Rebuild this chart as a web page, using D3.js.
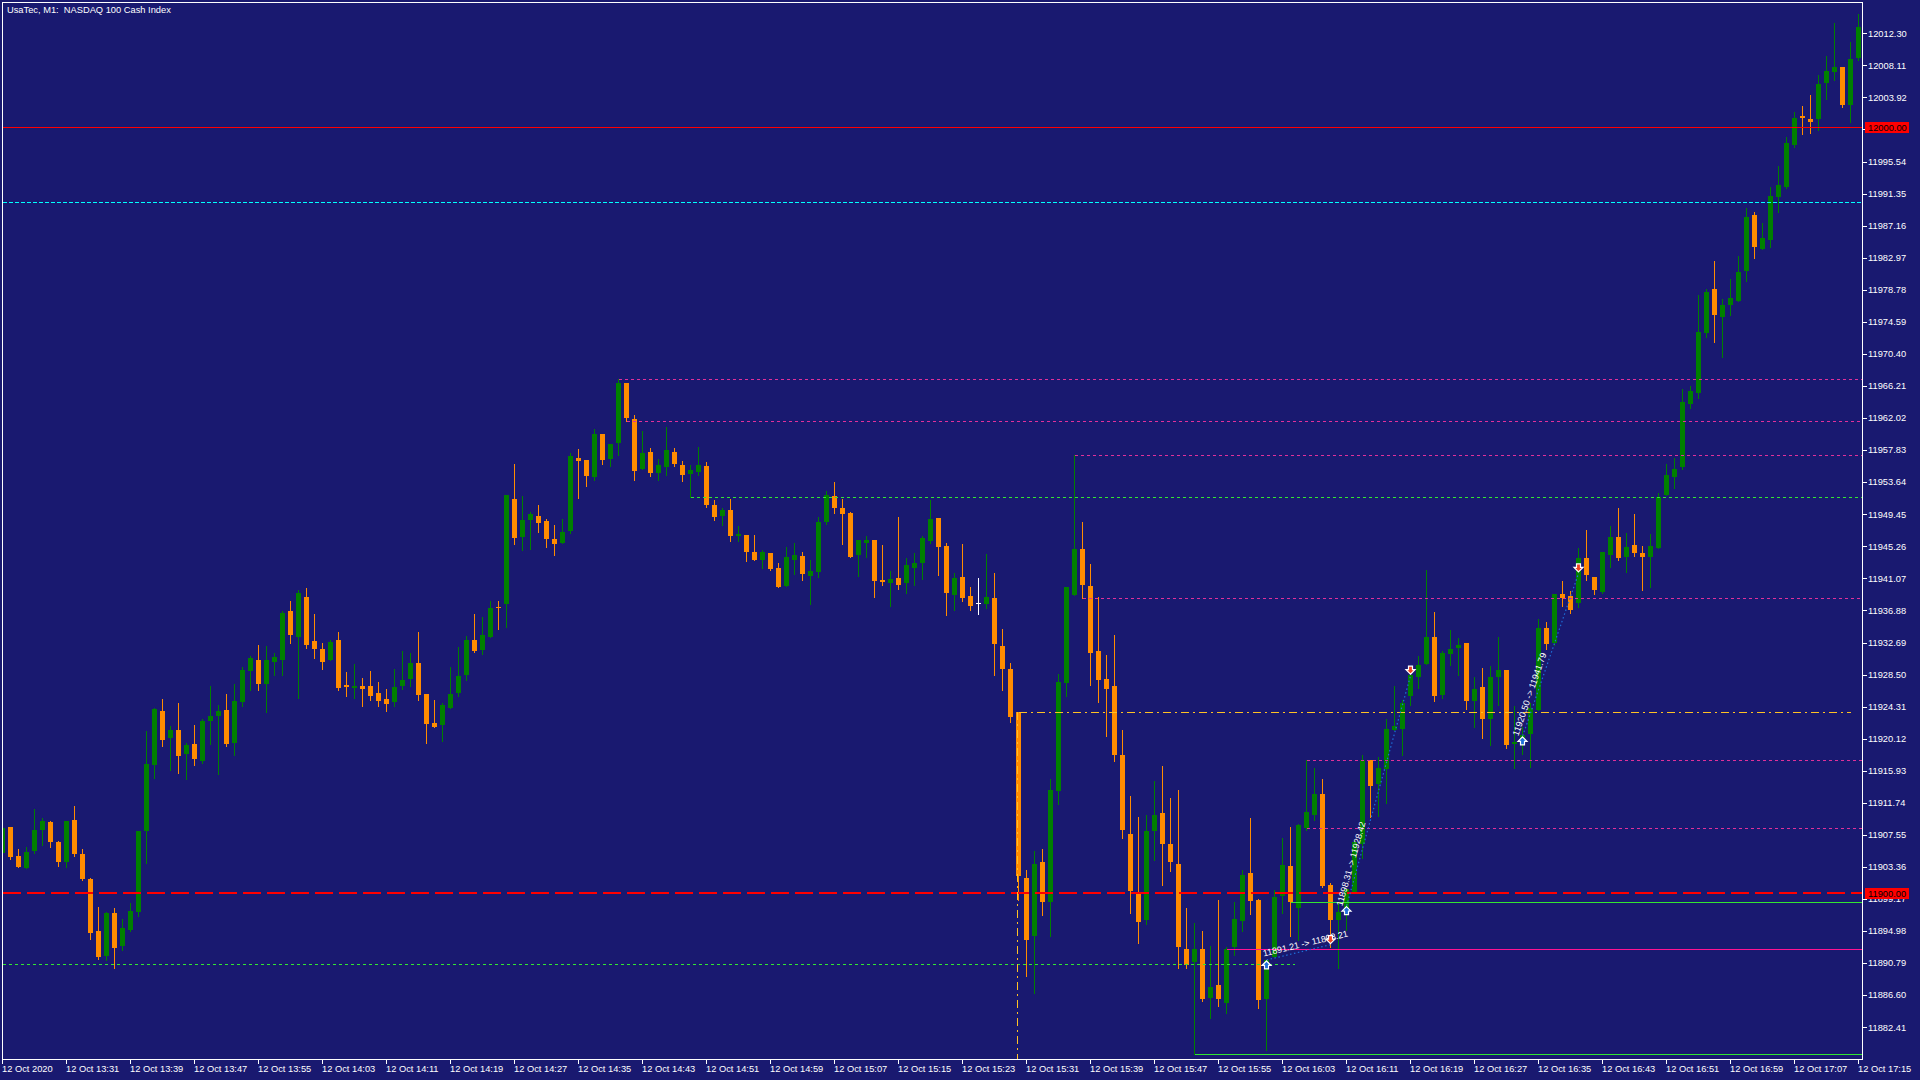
<!DOCTYPE html>
<html>
<head>
<meta charset="utf-8">
<title>UsaTec, M1: NASDAQ 100 Cash Index</title>
<script src="https://d3js.org/d3.v7.min.js"></script>
<style>
  html, body { margin: 0; padding: 0; background: #191970; }
  svg { display: block; }
  text { font-family: "Liberation Sans", Arial, sans-serif; fill: #fff; }
</style>
</head>
<body>
<svg id="chart" width="1920" height="1080"></svg>
<script>
// one bar per minute, 12 Oct 2020 13:23 .. 17:15
const opens = [
  11905.18,11908.53,11904.75,11903.22,11905.44,11908.19,11909.19,11906.57,11904.00,11909.45,
  11905.01,11901.74,11894.94,11891.72,11897.29,11893.02,11895.12,11897.47,11908.06,11916.68,
  11923.70,11920.21,11921.21,11918.12,11919.38,11917.21,11922.43,11923.09,11923.83,11919.56,
  11924.92,11928.97,11930.36,11927.27,11930.15,11930.41,11936.77,11933.41,11938.60,11932.85,
  11931.81,11930.37,11932.98,11927.15,11926.75,11926.97,11926.97,11926.06,11925.27,11924.92,
  11927.01,11927.93,11929.98,11925.92,11922.13,11921.91,11924.14,11926.10,11928.45,11932.98,
  11931.72,11933.42,11937.30,11937.73,11951.41,11946.49,11948.71,11949.19,11948.54,11946.19,
  11945.71,11947.27,11956.77,11956.51,11954.33,11959.91,11956.69,11958.78,11966.58,11961.87,
  11955.38,11957.56,11954.86,11955.64,11957.56,11955.86,11954.72,11954.99,11955.73,11950.63,
  11949.24,11949.98,11946.62,11946.75,11944.53,11943.48,11944.40,11942.44,11940.08,11943.48,
  11944.01,11941.39,11941.91,11948.45,11951.81,11950.24,11949.58,11944.14,11945.71,11946.05,
  11940.87,11940.48,11941.13,11940.48,11942.44,11943.09,11945.97,11948.93,11945.33,11938.96,
  11941.29,11938.75,11937.87,11937.77,11938.49,11932.23,11929.27,11923.57,11901.97,11894.35,
  11904.04,11898.81,11913.26,11927.41,11938.96,11944.92,11940.10,11931.55,11927.93,11926.99,
  11917.93,11907.72,11899.90,11896.37,11908.03,11910.36,11906.37,11903.78,11892.64,11890.88,
  11892.64,11886.27,11887.88,11885.65,11892.95,11896.27,11902.53,11898.99,11886.06,11891.59,
  11899.56,11903.44,11898.00,11908.50,11910.11,11912.85,11900.96,11896.43,11897.04,11900.13,
  11906.40,11917.30,11914.20,11916.16,11921.30,11921.34,11925.75,11928.19,11929.89,11933.37,
  11925.84,11931.19,11931.98,11932.59,11925.05,11926.84,11922.70,11928.15,11929.06,11919.43,
  11919.91,11920.74,11923.87,11934.64,11932.63,11939.03,11938.83,11937.90,11943.72,11941.25,
  11939.32,11944.16,11946.49,11943.92,11945.42,11944.45,11943.92,11944.98,11951.91,11954.28,
  11955.59,11963.82,11965.28,11973.12,11978.84,11975.20,11976.80,11977.38,11981.21,11988.52,
  11984.12,11985.28,11990.85,11992.25,11997.68,12001.45,12001.07,12001.07,12005.86,12007.26,
  12007.89,12002.95,12009.06
];
const highs = [
  11908.80,11908.53,11905.66,11905.92,11910.89,11909.71,11909.32,11906.70,11909.32,11911.28,
  11905.66,11901.87,11898.08,11897.42,11897.95,11896.51,11898.60,11908.01,11921.08,11924.09,
  11925.27,11921.74,11924.74,11919.51,11921.87,11922.65,11926.96,11924.48,11925.92,11927.23,
  11929.45,11930.89,11932.32,11932.19,11931.28,11936.77,11938.07,11939.51,11939.77,11936.38,
  11932.59,11932.98,11934.03,11928.80,11929.85,11928.02,11928.93,11927.49,11926.58,11929.19,
  11931.54,11931.28,11934.03,11925.92,11925.14,11924.75,11929.45,11932.07,11933.51,11936.38,
  11935.99,11938.08,11938.08,11951.94,11955.99,11951.80,11949.71,11950.63,11948.80,11948.02,
  11948.80,11957.43,11957.95,11956.51,11960.56,11959.91,11958.60,11967.10,11966.58,11962.39,
  11960.30,11958.08,11956.64,11960.82,11958.08,11956.38,11955.86,11958.21,11956.25,11951.28,
  11950.24,11951.41,11947.88,11946.75,11946.75,11944.79,11944.40,11943.09,11945.18,11945.71,
  11944.53,11943.48,11949.06,11952.46,11953.64,11951.41,11949.71,11946.05,11946.58,11946.05,
  11945.44,11942.05,11949.11,11943.74,11944.40,11946.62,11951.33,11948.93,11945.75,11941.81,
  11945.59,11939.95,11941.14,11944.30,11941.81,11934.45,11929.99,11923.57,11902.90,11905.49,
  11905.65,11914.92,11928.55,11939.95,11957.15,11948.49,11942.95,11938.65,11931.03,11933.68,
  11921.29,11912.69,11909.84,11910.15,11914.66,11916.53,11912.33,11913.37,11898.03,11896.06,
  11894.97,11893.06,11899.07,11892.95,11898.81,11903.00,11909.71,11899.21,11891.24,11900.30,
  11907.10,11908.58,11908.93,11917.30,11916.25,11914.81,11901.22,11898.78,11900.52,11906.85,
  11917.95,11917.30,11917.69,11922.65,11927.01,11925.14,11928.71,11930.89,11942.13,11936.64,
  11931.54,11934.29,11933.24,11932.59,11928.15,11929.32,11929.58,11933.37,11929.06,11924.35,
  11921.65,11924.79,11935.77,11935.38,11939.08,11940.72,11939.41,11945.03,11947.41,11941.25,
  11944.50,11947.94,11950.26,11947.02,11949.49,11945.32,11946.87,11952.25,11956.03,11956.85,
  11965.86,11966.24,11978.16,11978.84,11982.61,11977.63,11980.14,11983.15,11989.44,11988.91,
  11987.46,11992.20,11994.91,11998.69,12002.08,12002.81,12004.21,12006.83,12009.35,12013.66,
  12007.89,12011.19,12014.81
];
const lows = [
  11904.88,11904.40,11903.35,11903.22,11905.18,11906.18,11905.97,11903.48,11903.35,11904.79,
  11901.65,11893.94,11891.32,11891.19,11890.15,11892.50,11894.98,11896.95,11903.87,11914.98,
  11919.17,11916.03,11915.64,11914.85,11916.68,11916.95,11919.43,11915.51,11919.17,11917.99,
  11924.39,11926.49,11926.49,11923.61,11928.45,11928.45,11932.63,11925.44,11931.98,11930.67,
  11929.19,11930.37,11926.49,11925.71,11925.45,11924.40,11925.18,11924.40,11923.75,11924.40,
  11926.62,11927.01,11925.18,11919.52,11921.61,11919.78,11924.14,11925.71,11927.80,11931.46,
  11931.20,11933.42,11934.46,11934.72,11945.58,11944.79,11944.92,11947.14,11945.18,11944.14,
  11945.71,11947.01,11951.59,11953.16,11953.94,11956.03,11955.77,11957.21,11961.65,11953.94,
  11955.38,11954.46,11953.94,11954.59,11955.77,11953.81,11951.68,11954.59,11950.41,11948.71,
  11948.06,11945.97,11945.97,11943.35,11943.48,11942.44,11942.18,11939.95,11940.08,11941.65,
  11940.87,11937.73,11941.26,11948.19,11949.63,11945.58,11943.88,11941.39,11943.88,11938.65,
  11940.22,11937.47,11939.69,11939.17,11940.22,11941.00,11945.71,11941.52,11936.32,11936.94,
  11938.13,11936.94,11936.42,11937.25,11928.50,11926.47,11922.33,11899.02,11889.12,11886.94,
  11897.05,11894.30,11911.55,11925.75,11938.96,11938.49,11927.10,11924.92,11920.46,11917.20,
  11907.10,11897.41,11893.37,11895.91,11904.30,11900.98,11902.80,11890.10,11890.21,11878.86,
  11885.91,11883.58,11885.13,11884.30,11891.81,11894.99,11897.25,11884.97,11879.48,11891.59,
  11897.34,11894.29,11893.77,11908.23,11909.45,11900.74,11892.85,11890.15,11895.08,11900.13,
  11904.53,11909.89,11910.02,11911.72,11921.30,11917.99,11924.53,11926.75,11929.89,11925.05,
  11925.44,11929.76,11928.45,11924.01,11921.65,11920.22,11919.30,11924.53,11918.91,11916.29,
  11918.12,11916.43,11923.87,11931.89,11932.33,11937.50,11936.50,11937.30,11940.92,11939.00,
  11939.17,11942.61,11943.53,11941.93,11943.97,11939.61,11939.99,11944.98,11951.91,11952.93,
  11955.30,11963.29,11964.60,11972.59,11971.91,11969.97,11975.45,11977.38,11979.90,11982.95,
  11984.12,11984.36,11988.96,11992.11,11997.48,11999.18,11999.27,11999.61,12003.73,12006.25,
  12002.71,12000.73,12008.80
];
const closes = [
  11908.40,11904.66,11903.35,11905.27,11908.14,11909.32,11906.62,11904.00,11909.32,11905.05,
  11901.78,11894.72,11891.59,11897.29,11892.76,11895.33,11897.56,11908.01,11916.77,11923.96,
  11919.95,11921.21,11917.86,11919.25,11917.47,11922.39,11923.04,11923.70,11919.43,11925.00,
  11929.06,11930.62,11927.27,11930.36,11930.76,11936.51,11933.67,11939.12,11932.37,11931.85,
  11930.11,11932.72,11926.75,11926.88,11927.01,11926.58,11925.71,11925.05,11924.66,11926.84,
  11927.75,11929.98,11925.84,11922.04,11921.61,11924.48,11925.92,11928.28,11932.98,11931.59,
  11933.64,11937.17,11937.17,11951.94,11946.36,11948.67,11949.45,11948.32,11946.23,11945.58,
  11947.10,11957.03,11956.42,11954.46,11959.91,11956.55,11958.60,11966.58,11962.04,11955.12,
  11957.43,11954.86,11955.86,11957.82,11956.03,11954.59,11955.20,11955.86,11950.67,11949.11,
  11949.98,11946.62,11946.88,11944.53,11943.48,11944.53,11942.31,11939.95,11943.88,11944.14,
  11941.65,11942.05,11948.41,11951.94,11950.28,11949.50,11943.88,11946.05,11946.05,11940.74,
  11940.61,11941.00,11940.22,11942.83,11943.09,11946.36,11948.80,11945.18,11939.12,11941.09,
  11938.55,11937.51,11937.87,11938.65,11932.54,11929.27,11922.95,11902.12,11893.83,11903.78,
  11898.81,11913.37,11927.51,11939.95,11944.92,11940.15,11931.34,11927.82,11926.63,11917.98,
  11908.19,11900.16,11896.11,11908.08,11910.15,11906.32,11903.99,11892.85,11890.57,11892.64,
  11886.17,11887.62,11886.17,11892.64,11896.53,11902.26,11898.91,11885.93,11891.24,11899.39,
  11903.57,11898.78,11908.80,11910.50,11912.85,11900.87,11896.43,11897.51,11900.52,11906.67,
  11917.30,11913.94,11916.29,11921.34,11921.74,11924.75,11928.41,11929.71,11933.37,11925.71,
  11931.28,11931.80,11932.33,11925.05,11926.58,11922.70,11928.15,11929.06,11919.30,11919.69,
  11920.56,11924.14,11934.64,11932.50,11939.08,11938.49,11937.00,11943.72,11941.45,11939.60,
  11944.50,11946.49,11943.68,11945.18,11944.45,11943.92,11945.32,11951.72,11954.62,11955.40,
  11964.16,11965.62,11973.22,11978.55,11975.45,11976.85,11977.77,11981.06,11988.23,11984.36,
  11985.52,11990.99,11992.44,11997.92,12001.21,12001.21,12000.73,12005.67,12007.36,12007.89,
  12002.95,12008.96,12013.07
];

const priceTicks = [
  12012.30,12008.11,12003.92,11999.73,11995.54,11991.35,11987.16,11982.97,11978.78,11974.59,
  11970.40,11966.21,11962.02,11957.83,11953.64,11949.45,11945.26,11941.07,11936.88,11932.69,
  11928.50,11924.31,11920.12,11915.93,11911.74,11907.55,11903.36,11899.17,11894.98,11890.79,
  11886.60,11882.41
];

const timeLabels = [
  "12 Oct 2020","12 Oct 13:31","12 Oct 13:39","12 Oct 13:47","12 Oct 13:55","12 Oct 14:03",
  "12 Oct 14:11","12 Oct 14:19","12 Oct 14:27","12 Oct 14:35","12 Oct 14:43","12 Oct 14:51",
  "12 Oct 14:59","12 Oct 15:07","12 Oct 15:15","12 Oct 15:23","12 Oct 15:31","12 Oct 15:39",
  "12 Oct 15:47","12 Oct 15:55","12 Oct 16:03","12 Oct 16:11","12 Oct 16:19","12 Oct 16:27",
  "12 Oct 16:35","12 Oct 16:43","12 Oct 16:51","12 Oct 16:59","12 Oct 17:07","12 Oct 17:15"
];
const timeLabelBars = [0,8,16,24,32,40,48,56,64,72,80,88,96,104,112,120,128,136,144,152,
                       160,168,176,184,192,200,208,216,224,232];

// horizontal objects on the chart
const levelPrices = [12000.00, 11990.22, 11900.00, 11898.80, 11892.68, 11878.86,
                     11967.08, 11961.67, 11957.15, 11938.56, 11917.30, 11908.50,
                     11951.68, 11890.72, 11923.57];
const levelFromBar = [0, 0, 0, 161, 153, 149, 77, 78, 134, 135, 163, 163, 86, 0, 127];
const levelToBar   = [null, null, null, null, null, null, null, null, null, null, null, null, null, 161.5, 231];
const levelKind    = ["redSolid", "cyanDash", "redDash", "limeSolid", "pinkSolid", "limeSolid",
                      "magDot", "magDot", "magDot", "magDot", "magDot", "magDot",
                      "limeDot", "limeDot", "goldDashDot"];
const priceTagLevels = [12000.00, 11900.00];

// vertical object
const vlineBar = 127;
const vlineFromPrice = 11923.57;

// closed trades
const tradeOpenBar    = [158, 168, 190];
const tradeOpenPrice  = [11891.21, 11898.31, 11920.50];
const tradeCloseBar   = [166, 176, 197];
const tradeClosePrice = [11893.21, 11928.42, 11941.79];

const title = "UsaTec, M1:  NASDAQ 100 Cash Index";

// ---------------------------------------------------------------
const W = 1920, H = 1080;
const plot = { left: 2.5, top: 2.5, right: 1862.5, bottom: 1059.5 };

const svg = d3.select("#chart");

svg.append("rect").attr("width", W).attr("height", H).attr("fill", "#191970");

svg.append("defs").append("clipPath").attr("id", "plotClip")
  .append("rect")
  .attr("x", plot.left + 0.5).attr("y", plot.top + 0.5)
  .attr("width", plot.right - plot.left - 1).attr("height", plot.bottom - plot.top - 1);

const x = d3.scaleLinear().domain([0, opens.length - 1]).range([2.7, 1858.7]);
const y = d3.scaleLinear().domain([11882.41, 12012.30]).range([1027.3, 33.3]);

const bars = opens.map((o, i) => ({ i, o, h: highs[i], l: lows[i], c: closes[i] }));
const barColor = d => d.c > d.o ? "#008000" : (d.c < d.o ? "#FF8C00" : "#FFFFFF");
const px = i => Math.floor(x(i)) + 0.5;

const g = svg.append("g").attr("clip-path", "url(#plotClip)");

// candles
const candle = g.append("g").attr("shape-rendering", "crispEdges")
  .selectAll("g").data(bars).join("g");

candle.append("line")
  .attr("x1", d => px(d.i)).attr("x2", d => px(d.i))
  .attr("y1", d => Math.round(y(d.h))).attr("y2", d => Math.round(y(d.l)) + 1)
  .attr("stroke", barColor).attr("stroke-width", 1);

candle.append("rect")
  .attr("x", d => Math.floor(x(d.i)) - 2)
  .attr("width", 5)
  .attr("y", d => Math.round(y(Math.max(d.o, d.c))))
  .attr("height", d => Math.max(1, Math.round(y(Math.min(d.o, d.c))) - Math.round(y(Math.max(d.o, d.c)))))
  .attr("fill", barColor);

// levels
const levelStyle = {
  redSolid:    { stroke: "#FF0000", dash: null,        width: 1 },
  cyanDash:    { stroke: "#00FFFF", dash: "4,2",       width: 1 },
  redDash:     { stroke: "#FF0000", dash: "18,6",      width: 2 },
  limeSolid:   { stroke: "#32E632", dash: null,        width: 1 },
  pinkSolid:   { stroke: "#FF1493", dash: null,        width: 1 },
  magDot:      { stroke: "#E0309A", dash: "3,3",       width: 1 },
  limeDot:     { stroke: "#32E632", dash: "3,3",       width: 1 },
  goldDashDot: { stroke: "#FFC125", dash: "8,4,2,4",   width: 1 }
};

const levels = levelPrices.map((p, k) => ({
  p, from: levelFromBar[k], to: levelToBar[k], kind: levelKind[k]
}));

g.append("g").attr("shape-rendering", "crispEdges")
  .selectAll("line").data(levels).join("line")
  .attr("x1", d => d.from === 0 ? plot.left : px(d.from))
  .attr("x2", d => d.to === null ? plot.right : px(d.to))
  .attr("y1", d => Math.round(y(d.p)) + (levelStyle[d.kind].width === 2 ? 0 : 0.5))
  .attr("y2", d => Math.round(y(d.p)) + (levelStyle[d.kind].width === 2 ? 0 : 0.5))
  .attr("stroke", d => levelStyle[d.kind].stroke)
  .attr("stroke-dasharray", d => levelStyle[d.kind].dash)
  .attr("stroke-width", d => levelStyle[d.kind].width);

// vertical dash-dot
g.append("line")
  .attr("x1", px(vlineBar) - 1).attr("x2", px(vlineBar) - 1)
  .attr("y1", y(vlineFromPrice)).attr("y2", plot.bottom)
  .attr("stroke", "#FFC125").attr("stroke-dasharray", "8,4,2,4")
  .attr("shape-rendering", "crispEdges");

// trades
const trades = tradeOpenBar.map((b, k) => ({
  x1: x(b), y1: y(tradeOpenPrice[k]),
  x2: x(tradeCloseBar[k]), y2: y(tradeClosePrice[k]),
  label: tradeOpenPrice[k].toFixed(2) + " -> " + tradeClosePrice[k].toFixed(2)
}));

const tg = g.append("g");
tg.selectAll("line").data(trades).join("line")
  .attr("x1", d => d.x1).attr("y1", d => d.y1)
  .attr("x2", d => d.x2).attr("y2", d => d.y2)
  .attr("stroke", "#1E6FD9").attr("stroke-width", 1.2)
  .attr("stroke-dasharray", "1.5,2.5");

tg.selectAll("text").data(trades).join("text")
  .attr("transform", d => {
    const a = Math.atan2(d.y2 - d.y1, d.x2 - d.x1) * 180 / Math.PI;
    return `translate(${d.x1},${d.y1}) rotate(${a})`;
  })
  .attr("x", -2).attr("y", -4)
  .style("font-size", "9px")
  .text(d => d.label);

const upArrow = "M0,0 L4.5,4.5 L2,4.5 L2,8 L-2,8 L-2,4.5 L-4.5,4.5 Z";
const downArrow = "M0,0 L4.5,-4.5 L2,-4.5 L2,-8 L-2,-8 L-2,-4.5 L-4.5,-4.5 Z";

tg.selectAll("path.open").data(trades).join("path")
  .attr("class", "open")
  .attr("transform", d => `translate(${px(0) - x(0) + d.x1},${d.y1 + 1})`)
  .attr("d", upArrow)
  .attr("fill", "#1E6FD9").attr("stroke", "#fff").attr("stroke-width", 1.2);

tg.selectAll("path.close").data(trades).join("path")
  .attr("class", "close")
  .attr("transform", d => `translate(${px(0) - x(0) + d.x2},${d.y2 - 1})`)
  .attr("d", downArrow)
  .attr("fill", "#F04020").attr("stroke", "#fff").attr("stroke-width", 1.2);

// frame
svg.append("rect")
  .attr("x", plot.left).attr("y", plot.top)
  .attr("width", plot.right - plot.left).attr("height", plot.bottom - plot.top)
  .attr("fill", "none").attr("stroke", "#fff").attr("stroke-width", 1)
  .attr("shape-rendering", "crispEdges");

// price axis (labels hidden under a price tag are not drawn)
const coveredByTag = v => priceTagLevels.some(p => Math.abs(y(p) - y(v)) < 4);
const ya = svg.append("g").attr("shape-rendering", "crispEdges");
ya.selectAll("line").data(priceTicks).join("line")
  .attr("x1", plot.right).attr("x2", plot.right + 4)
  .attr("y1", d => Math.round(y(d)) + 0.5).attr("y2", d => Math.round(y(d)) + 0.5)
  .attr("stroke", "#fff");
ya.selectAll("text").data(priceTicks.filter(v => !coveredByTag(v))).join("text")
  .attr("x", 1868).attr("y", d => y(d)).attr("dy", "0.35em")
  .style("font-size", "9.3px")
  .text(d => d.toFixed(2));

// time axis
const xa = svg.append("g").attr("shape-rendering", "crispEdges");
xa.selectAll("line").data(timeLabelBars).join("line")
  .attr("x1", d => px(d)).attr("x2", d => px(d))
  .attr("y1", plot.bottom).attr("y2", plot.bottom + 4)
  .attr("stroke", "#fff");
xa.selectAll("text").data(timeLabels).join("text")
  .attr("x", (d, k) => Math.floor(x(timeLabelBars[k])))
  .attr("y", 1072)
  .style("font-size", "9.3px")
  .text(d => d);

// price tags for the red levels
const tags = svg.append("g").selectAll("g").data(priceTagLevels).join("g")
  .attr("transform", d => `translate(1865,${Math.round(y(d)) - 5})`);
tags.append("rect").attr("width", 44).attr("height", 11).attr("fill", "#FF0000");
tags.append("text").attr("x", 3).attr("y", 5.5).attr("dy", "0.35em")
  .style("font-size", "9.3px").style("fill", "#000")
  .text(d => d.toFixed(2));

// title
svg.append("text")
  .attr("x", 7).attr("y", 13)
  .attr("xml:space", "preserve")
  .style("font-size", "9.3px").style("white-space", "pre")
  .text(title);
</script>
</body>
</html>
